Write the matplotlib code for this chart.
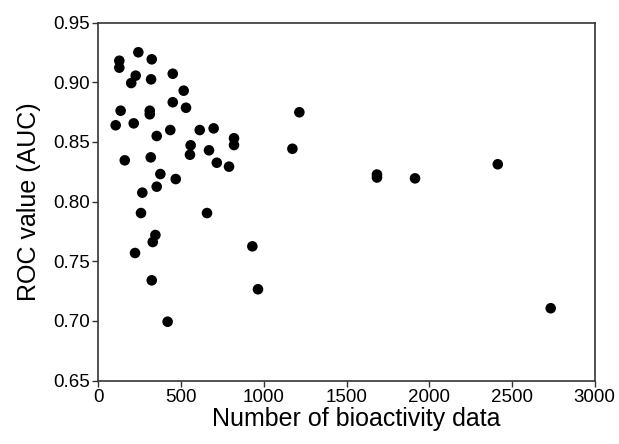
import matplotlib
matplotlib.use("Agg")
import matplotlib.pyplot as plt

num_bioactivity = [242, 127, 127, 323, 226, 199, 319, 450, 516, 450, 530, 135, 311, 311,
                   105, 214, 435, 613, 697, 353, 820, 820, 558, 554, 669, 160, 317, 716,
                   790, 375, 468, 353, 266, 258, 657, 345, 329, 222, 931, 323, 965, 419,
                   1215, 1173, 1684, 1684, 1914, 2414, 2734]
roc_auc = [0.9252, 0.9181, 0.9123, 0.9193, 0.9056, 0.8994, 0.9025, 0.9072, 0.8930, 0.8833,
           0.8787, 0.8762, 0.8762, 0.8732, 0.8640, 0.8656, 0.8600, 0.8600, 0.8614, 0.8550,
           0.8531, 0.8474, 0.8472, 0.8393, 0.8430, 0.8346, 0.8371, 0.8326, 0.8293, 0.8231,
           0.8189, 0.8125, 0.8075, 0.7904, 0.7904, 0.7720, 0.7661, 0.7569, 0.7625, 0.7340,
           0.7265, 0.6993, 0.8749, 0.8443, 0.8227, 0.8202, 0.8195, 0.8313, 0.7106]

xticks = [0, 500, 1000, 1500, 2000, 2500, 3000]
yticks = [0.65, 0.70, 0.75, 0.80, 0.85, 0.90, 0.95]

plt.rcParams['font.family'] = ['Liberation Sans', 'DejaVu Sans']

fig = plt.figure(figsize=(6.19, 4.44), dpi=100)
ax = fig.add_axes([0.1588, 0.143, 0.8020, 0.8059])
ax.scatter(num_bioactivity, roc_auc, s=58, color='black', edgecolors='none', zorder=3)

ax.set_xlim(0, 3000)
ax.set_ylim(0.65, 0.95)
ax.set_xticks(xticks)
ax.set_yticks(yticks)
ax.set_yticklabels([f"{v:.2f}" for v in yticks])
ax.tick_params(direction='out', length=4, width=1, labelsize=13.5, colors='#333333',
               labelcolor='black', pad=2)
for sp in ax.spines.values():
    sp.set_color('#333333')
    sp.set_linewidth(1.2)

ax.set_xlabel("Number of bioactivity data", fontsize=18, labelpad=7)
ax.set_ylabel("ROC value (AUC)", fontsize=18, labelpad=9)
ax.xaxis.set_label_coords(0.52, -0.075, transform=ax.transAxes)
ax.xaxis.label.set_va('top')

fig.savefig("out.png", dpi=100)
